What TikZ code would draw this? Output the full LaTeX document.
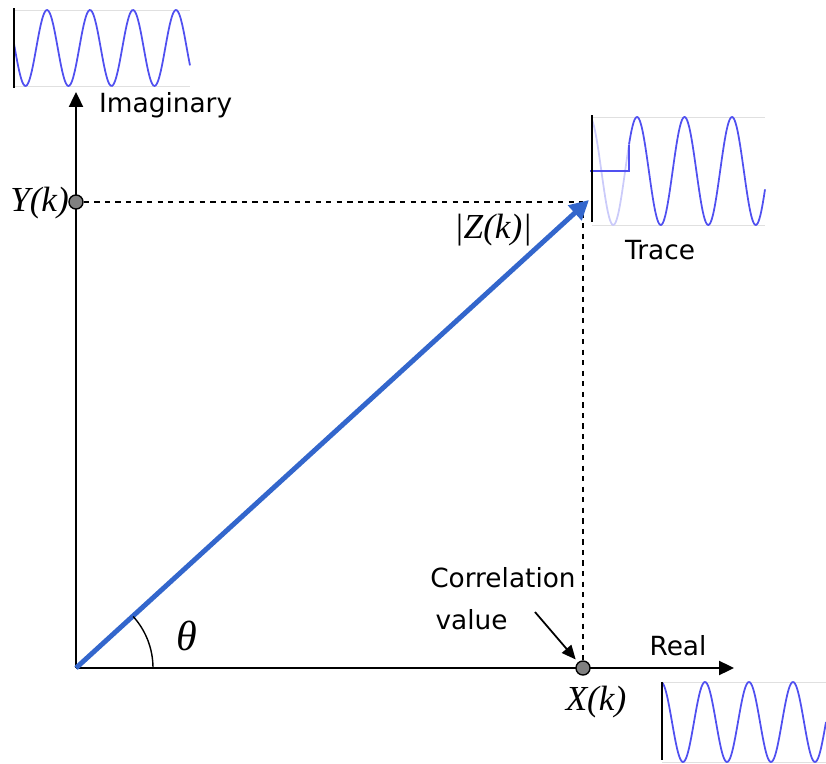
\documentclass[tikz,border=0pt]{standalone}
\usepackage{fontspec}
\setmainfont{DejaVu Sans}
\newfontfamily\serifit{Liberation Serif}[ItalicFont=* Italic]
\usepackage{xcolor}
\definecolor{VectorBlue}{RGB}{51,102,204}
\definecolor{WaveBlue}{RGB}{80,80,240}
\definecolor{DotGray}{RGB}{128,128,128}
\usetikzlibrary{arrows.meta}

\begin{document}
\begin{tikzpicture}[
    x=0.02cm, y=0.02cm,
    axis/.style={
        line width=1.1pt, draw=black,
        -{Triangle[length=8.5pt, width=8pt]}
    },
    vec/.style={
        line width=2.8pt, draw=VectorBlue,
        -{Triangle[length=11pt, width=11pt]}
    },
    guide/.style={
        dashed, line width=0.8pt, draw=black
    },
    pointer/.style={
        line width=1pt, draw=black, shorten >=2pt,
        -{Triangle[length=8pt, width=7pt]}
    },
    dot/.style={
        circle, draw=black, line width=0.8pt, fill=DotGray,
        minimum size=8pt, inner sep=0pt
    },
    sine/.style={
        draw=WaveBlue, line width=1pt
    },
    faintsine/.style={
        draw=WaveBlue!30, line width=1pt
    },
    edgeline/.style={
        draw=black, line width=1.1pt
    },
    gridline/.style={
        draw=black!12, line width=0.5pt
    },
    wavelabel/.style={
        font=\fontsize{15}{24}\selectfont, text=black, align=left
    },
    mathlabel/.style={
        font=\serifit\fontsize{20}{20}\selectfont\itshape, text=black
    }
]
\useasboundingbox (0,0) rectangle (826,-764);

% ====== AXES ======
\coordinate (O)       at (76,-668);
\coordinate (imagEnd) at (76,-92);
\coordinate (realEnd) at (734,-668);
\draw[axis] (O) -- (imagEnd);
\draw[axis] (O) -- (realEnd);

\node[wavelabel, anchor=west] (imag) at (93,-105) {Imaginary};
\node[wavelabel] (real) at (678,-646) {Real};

% ====== PROJECTIONS ======
\node[dot] (ydot) at (76,-202) {};
\node[dot] (xdot) at (583,-668) {};
\coordinate (corner) at (583,-202);
\draw[guide] (ydot) -- (corner);
\draw[guide] (corner) -- (xdot);

\node[mathlabel, anchor=east] (ylab) at (75,-203) {Y(k)};
\node[mathlabel] (xlab) at (596,-702) {X(k)};

% ====== VECTEUR Z(k) ======
\coordinate (ztip) at (589,-200);
\draw[vec] (O) -- (ztip);
\node[mathlabel] (zlab) at (493,-230) {|Z(k)|};

% angle theta
\draw[line width=0.8pt] (O) ++(77,0) arc[start angle=0, end angle=42, radius=77];
\node[font=\serifit\fontsize{24}{24}\selectfont\itshape] (theta) at (187,-636) {θ};

% ====== CORRELATION ======
\node[wavelabel] (corr) at (503,-599) {Correlation\\\hspace{3pt}value};
\coordinate (corrStart) at (535,-612);
\draw[pointer] (corrStart) -- (xdot);

% ====== SIGNAUX ======
% 1. signal imaginaire (haut gauche)
\draw[gridline] (14,-10) -- (190,-10);
\draw[gridline] (14,-86) -- (190,-86);
\draw[sine] plot[domain=14:190, samples=150, smooth] (\x, {-48+38*cos(360/43*(\x-47))});
\draw[edgeline] (14,-8) -- (14,-88);

% 2. trace (haut droite)
\draw[gridline] (592,-117) -- (765,-117);
\draw[gridline] (592,-225) -- (765,-225);
\draw[faintsine] plot[domain=592:629, samples=40, smooth] (\x, {-171+54*cos(360/47.5*(\x-637))});
\draw[sine] plot[domain=629:765, samples=150, smooth] (\x, {-171+54*cos(360/47.5*(\x-637))});
\draw[sine] (590,-171) -- (629,-171) -- (629,{-171+54*cos(360/47.5*(629-637))});
\draw[edgeline] (592,-115) -- (592,-222);
\node[wavelabel] (trace) at (660,-250) {Trace};

% 3. signal reel (bas droite)
\draw[gridline] (662,-682) -- (826,-682);
\draw[gridline] (662,-762) -- (826,-762);
\draw[sine] plot[domain=662:826, samples=150, smooth] (\x, {-722+40*cos(360/44*(\x-661))});
\draw[edgeline] (662,-682) -- (662,-760);

\end{tikzpicture}
\end{document}
